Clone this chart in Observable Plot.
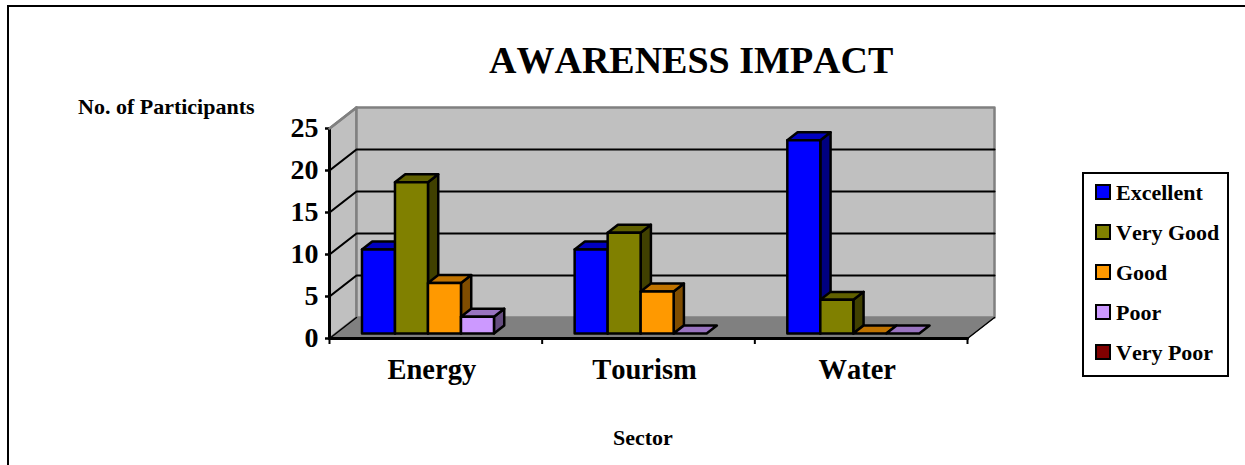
<!DOCTYPE html>
<html>
<head>
<meta charset="utf-8">
<script src="https://cdn.jsdelivr.net/npm/d3@7"></script>
<script src="https://cdn.jsdelivr.net/npm/@observablehq/plot@0.6"></script>
<style>
  html, body { margin: 0; padding: 0; background: #fff; }
  #page { position: relative; width: 1245px; height: 465px; overflow: hidden; font-family: "Liberation Serif", serif; font-weight: bold; color: #000; font-kerning: none; }
  #page svg { position: absolute; left: 0; top: 0; font-kerning: none; }
  #page svg text { font-kerning: none; }
  .abs { position: absolute; white-space: nowrap; line-height: 1; }
  #frame { position: absolute; left: 7px; top: 5px; width: 1300px; height: 500px; border: 2px solid #000; box-sizing: border-box; }
  #legend { position: absolute; left: 1082px; top: 172px; width: 147px; height: 205px; border: 2px solid #000; box-sizing: border-box; background: #fff; }
  .item { position: absolute; left: 11px; display: flex; align-items: center; font-size: 22px; height: 24px; }
  .item span { position: relative; top: 1px; }
  .swatch { width: 16px; height: 16px; box-sizing: border-box; border: 2px solid #000; margin-right: 5px; flex: none; }
</style>
</head>
<body>
<div id="page"></div>
<script>
const categories = ["Energy", "Tourism", "Water"];
const seriesNames = ["Excellent", "Very Good", "Good", "Poor", "Very Poor"];
const excellent = [10, 10, 23];
const veryGood = [18, 12, 4];
const good = [6, 5, 0];
const poor = [2, 0, 0];
const veryPoor = [null, null, null];
const seriesValues = [excellent, veryGood, good, poor, veryPoor];
const seriesColors = ["#0000FF", "#808000", "#FF9900", "#CC99FF", "#800000"];
const topColors = ["#0000C0", "#606000", "#C07300", "#9973C0", "#600000"];
const sideColors = ["#000080", "#404000", "#804D00", "#664D80", "#400000"];
const yTicks = [0, 5, 10, 15, 20, 25];

// Oblique projection: z is depth (0 = front of the floor, 1 = back wall), in data units.
const depthX = 27 / 212.67, depthY = 2.5;
const px = (u, v, z) => ({x: u + z * depthX, y: v + z * depthY});
const closed = (pts, o) => Plot.line(pts, {x: "x", y: "y", curve: "linear-closed", ...o});
const seg = (pts, o) => Plot.line(pts, {x: "x", y: "y", ...o});

const nCat = categories.length, yMax = yTicks[yTicks.length - 1];
const marks = [];
// left wall, back wall, floor
marks.push(closed([px(0,0,0), px(0,yMax,0), px(0,yMax,1), px(0,0,1)], {fill: "#C0C0C0", stroke: "#808080", strokeWidth: 2.5}));
marks.push(closed([px(0,0,1), px(0,yMax,1), px(nCat,yMax,1), px(nCat,0,1)], {fill: "#C0C0C0", stroke: "#808080", strokeWidth: 2.5}));
// gridlines
for (const t of yTicks.filter(t => t > 0 && t < yMax)) {
  marks.push(seg([px(0,t,0), px(0,t,1), px(nCat,t,1)], {stroke: "#000", strokeWidth: 2.2}));
}
marks.push(closed([px(0,0,0), px(0,0,1), px(nCat,0,1), px(nCat,0,0)], {fill: "#808080", stroke: "#808080", strokeWidth: 1}));
marks.push(seg([px(0,0,1), px(0,0,0)], {stroke: "#000", strokeWidth: 1.5}));
marks.push(seg([px(nCat,0,1), px(nCat,0,0)], {stroke: "#000", strokeWidth: 1.5}));

// bars
const barW = 33 / 212.67, barStart = 26 / 212.67, z0 = 0.24, z1 = 0.62;
const style = {stroke: "#000", strokeWidth: 2.5, strokeLinejoin: "round"};
categories.forEach((c, i) => {
  seriesValues.forEach((vals, s) => {
    const v = vals[i];
    if (v == null) return;
    const a = i + barStart + s * barW, b = a + barW;
    if (v > 0) marks.push(closed([px(b,0,z0), px(b,v,z0), px(b,v,z1), px(b,0,z1)], {fill: sideColors[s], ...style}));
    marks.push(closed([px(a,v,z0), px(b,v,z0), px(b,v,z1), px(a,v,z1)], {fill: topColors[s], ...style}));
    if (v > 0) marks.push(closed([px(a,0,z0), px(b,0,z0), px(b,v,z0), px(a,v,z0)], {fill: seriesColors[s], ...style}));
  });
});

// axes
marks.push(Plot.axisY({ticks: yTicks, tickSize: 4, tickPadding: 7, label: null, fontSize: 28, fontWeight: "bold", strokeWidth: 2.5, stroke: "#000"}));
marks.push(seg([px(0,0,0), px(0,yMax,0)], {stroke: "#000", strokeWidth: 3}));
marks.push(seg([px(0,yMax,0), px(0,yMax,1)], {stroke: "#808080", strokeWidth: 2.5}));
marks.push(seg([px(0,0,0), px(nCat,0,0)], {stroke: "#000", strokeWidth: 3}));
marks.push(Plot.axisX({ticks: d3.range(nCat + 1), tickSize: 6, tickFormat: () => "", label: null, strokeWidth: 2, anchor: "bottom"}));
marks.push(Plot.text(categories, {x: (d, i) => i + 0.5, y: 0, text: d => d, dx: -4, dy: 31, fontSize: 28.5, fontWeight: "bold", fill: "#000"}));

const chart = Plot.plot({
  width: 1245, height: 465,
  marginLeft: 329, marginRight: 278, marginTop: 128, marginBottom: 127,
  style: {fontFamily: '"Liberation Serif", serif', background: "transparent", color: "#000", overflow: "visible"},
  x: {type: "linear", domain: [0, nCat]},
  y: {type: "linear", domain: [0, yMax]},
  marks
});

const page = document.getElementById("page");
page.append(chart);

const frame = document.createElement("div"); frame.id = "frame"; page.append(frame);

function label(text, left, top, size) {
  const d = document.createElement("div");
  d.className = "abs"; d.textContent = text;
  d.style.left = left + "px"; d.style.top = top + "px"; d.style.fontSize = size + "px";
  page.append(d);
}
label("AWARENESS IMPACT", 489, 41, 38);
label("No. of Participants", 78, 96, 22);
label("Sector", 613, 427, 22);

const legend = document.createElement("div"); legend.id = "legend";
seriesNames.forEach((n, i) => {
  const it = document.createElement("div"); it.className = "item";
  it.style.top = (6 + i * 40) + "px";
  const sw = document.createElement("div"); sw.className = "swatch"; sw.style.background = seriesColors[i];
  const t = document.createElement("span"); t.textContent = n;
  it.append(sw, t);
  legend.append(it);
});
page.append(legend);
</script>
</body>
</html>
